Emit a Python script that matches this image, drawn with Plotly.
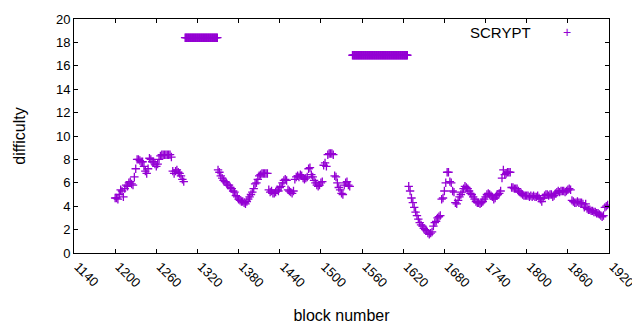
import plotly.graph_objects as go

# ---- data ----
series_name = "SCRYPT"

# low segment A: blocks 1200..1300, every 2 blocks
start_a = 1200
diff_a = [
    4.7, 4.7, 4.6, 5.0, 5.4, 5.3, 4.8, 5.5, 5.8, 5.7,   # 1200-1218
    6.0, 6.1, 5.9, 5.8, 6.5, 7.2, 8.0, 8.0, 7.9, 7.8,   # 1220-1238
    7.8, 7.4, 7.0, 6.8, 7.2, 8.1, 8.0, 7.8, 7.8, 7.6,   # 1240-1258
    7.4, 7.6, 8.0, 8.3, 8.4, 8.4, 8.4, 8.4, 8.4, 8.4,   # 1260-1278
    8.4, 8.2, 7.0, 6.8, 7.0, 7.1, 6.9, 6.8, 6.6, 6.3,   # 1280-1298
    6.1,                                                # 1300
]

# spike plateau 1: blocks 1302..1349
plateau1_blocks = list(range(1302, 1350))
plateau1_value = 18.4

# low segment B: blocks 1350..1542, every 2 blocks
start_b = 1350
diff_b = [
    7.1, 6.9, 6.6, 6.4, 6.2, 6.1, 6.0, 5.8, 5.8, 5.6,   # 1350-1368
    5.5, 5.3, 5.2, 4.9, 4.8, 4.6, 4.5, 4.4, 4.4, 4.3,   # 1370-1388
    4.2, 4.4, 4.6, 4.8, 5.0, 5.2, 5.5, 5.9, 6.0, 6.3,   # 1390-1408
    6.6, 6.7, 6.8, 6.8, 6.8, 6.8, 6.8, 5.4, 5.2, 5.3,   # 1410-1428
    5.1, 5.1, 5.2, 5.4, 5.3, 5.6, 5.7, 6.0, 6.2, 6.3,   # 1430-1448
    6.2, 5.4, 5.3, 5.2, 5.1, 5.3, 6.3, 6.5, 6.6, 6.5,   # 1450-1468
    6.7, 6.6, 6.4, 6.3, 6.4, 6.5, 7.2, 7.3, 6.7, 6.5,   # 1470-1488
    6.2, 6.0, 5.8, 5.7, 5.8, 6.0, 6.1, 7.5, 7.7, 7.4,   # 1490-1508
    8.4, 8.5, 8.5, 8.5, 8.4, 6.6, 6.5, 6.0, 5.6, 5.4,   # 1510-1528
    5.1, 5.0, 5.8, 6.0, 6.1, 5.8, 5.7,                  # 1530-1542
]

# spike plateau 2: blocks 1546..1626
plateau2_blocks = list(range(1546, 1627))
plateau2_value = 16.9

# low segment C: blocks 1628..1918, every 2 blocks
start_c = 1628
diff_c = [
    5.7, 5.3, 4.7, 4.3, 3.9, 3.5, 3.2, 2.9, 2.6, 2.4,   # 1628-1646
    2.3, 2.1, 2.0, 1.9, 1.7, 1.6, 1.7, 1.8, 2.3, 2.6,   # 1648-1666
    2.7, 3.0, 3.1, 3.2, 4.6, 4.7, 5.3, 6.0, 6.9, 6.9,   # 1668-1686
    6.1, 6.0, 5.3, 5.2, 4.3, 4.2, 4.5, 4.8, 5.0, 5.2,   # 1688-1706
    5.5, 5.7, 5.6, 5.5, 5.3, 5.1, 5.0, 4.8, 4.6, 4.4,   # 1708-1726
    4.3, 4.3, 4.2, 4.3, 4.4, 4.6, 4.8, 5.0, 5.1, 5.0,   # 1728-1746
    4.9, 4.8, 4.6, 4.7, 4.9, 5.0, 5.1, 5.3, 6.4, 7.1,   # 1748-1766
    6.7, 6.8, 6.9, 6.9, 6.9, 5.6, 5.6, 5.5, 5.5, 5.5,   # 1768-1786
    5.3, 5.2, 5.1, 5.0, 4.9, 4.9, 4.9, 4.9, 4.8, 4.9,   # 1788-1806
    4.8, 4.9, 4.8, 4.8, 4.9, 4.7, 4.6, 4.4, 4.7, 4.9,   # 1808-1826
    5.0, 5.0, 4.9, 5.0, 5.0, 4.8, 4.9, 5.1, 5.2, 5.3,   # 1828-1846
    5.2, 5.3, 5.3, 5.3, 5.2, 5.3, 5.4, 5.5, 5.4, 4.5,   # 1848-1866
    4.4, 4.3, 4.3, 4.4, 4.3, 4.3, 4.3, 4.2, 3.9, 4.2,   # 1868-1886
    3.8, 3.7, 3.7, 3.6, 3.6, 3.5, 3.5, 3.4, 3.4, 3.3,   # 1888-1906
    3.2, 3.1, 3.2, 3.9, 4.0, 4.1,                       # 1908-1918
]

x_ticks = [1140, 1200, 1260, 1320, 1380, 1440, 1500, 1560, 1620, 1680, 1740, 1800, 1860, 1920]
y_ticks = [0, 2, 4, 6, 8, 10, 12, 14, 16, 18, 20]

# ---- assemble ----
blocks_a = [start_a + 2 * i for i in range(len(diff_a))]
blocks_b = [start_b + 2 * i for i in range(len(diff_b))]
blocks_c = [start_c + 2 * i for i in range(len(diff_c))]

xs = blocks_a + plateau1_blocks + blocks_b + plateau2_blocks + blocks_c
ys = (diff_a + [plateau1_value] * len(plateau1_blocks) + diff_b
      + [plateau2_value] * len(plateau2_blocks) + diff_c)

color = "#9400D3"
font_family = "Liberation Sans, Arial, sans-serif"

fig = go.Figure()
fig.add_trace(go.Scatter(
    x=xs, y=ys, mode="markers", name=series_name,
    marker=dict(symbol="cross-thin", size=6, color=color,
                line=dict(color=color, width=1.3)),
    showlegend=False,
))

axis_common = dict(
    showline=True, linecolor="black", linewidth=1, mirror="ticks",
    ticks="inside", ticklen=4, tickcolor="black", tickwidth=1,
    showgrid=False, zeroline=False, automargin=False,
    tickfont=dict(family=font_family, size=13, color="black"),
    ticklabeloverflow="allow",
)

# the page body has an 8px margin, so the figure starts at (8, 8)
OFF = 8
W, H = 632, 322
l, t = 74 - OFF, 19 - OFF
pw, ph = 535, 234
r = W - l - pw
b = H - t - ph


def px_to_paper(px, py):
    # px, py are page pixel positions
    return (px - OFF - l) / pw, (t + ph - (py - OFF)) / ph


lx, ly = px_to_paper(533, 32)
mx, my = px_to_paper(567, 32)

fig.update_layout(
    width=W, height=H,
    margin=dict(l=l, r=r, t=t, b=b, autoexpand=False),
    paper_bgcolor="white", plot_bgcolor="white",
    font=dict(family=font_family, size=13, color="black"),
    xaxis=dict(range=[1140, 1920], tickvals=x_ticks, ticktext=[str(v) for v in x_ticks],
               tickangle=45, ticklabelshift=4,
               title=dict(text="block number", font=dict(family=font_family, size=16), standoff=20),
               **axis_common),
    yaxis=dict(range=[0, 20], tickvals=y_ticks, ticktext=[str(v) for v in y_ticks],
               title=dict(text="difficulty", font=dict(family=font_family, size=16), standoff=26),
               **axis_common),
    annotations=[
        dict(text=series_name, x=lx, y=ly, xref="paper", yref="paper",
             showarrow=False, xanchor="right", yanchor="middle",
             font=dict(family=font_family, size=15, color="black")),
        dict(text="+", x=mx, y=my, xref="paper", yref="paper",
             showarrow=False, xanchor="center", yanchor="middle",
             font=dict(family=font_family, size=14, color=color)),
    ],
)

fig.write_html("out.html")
